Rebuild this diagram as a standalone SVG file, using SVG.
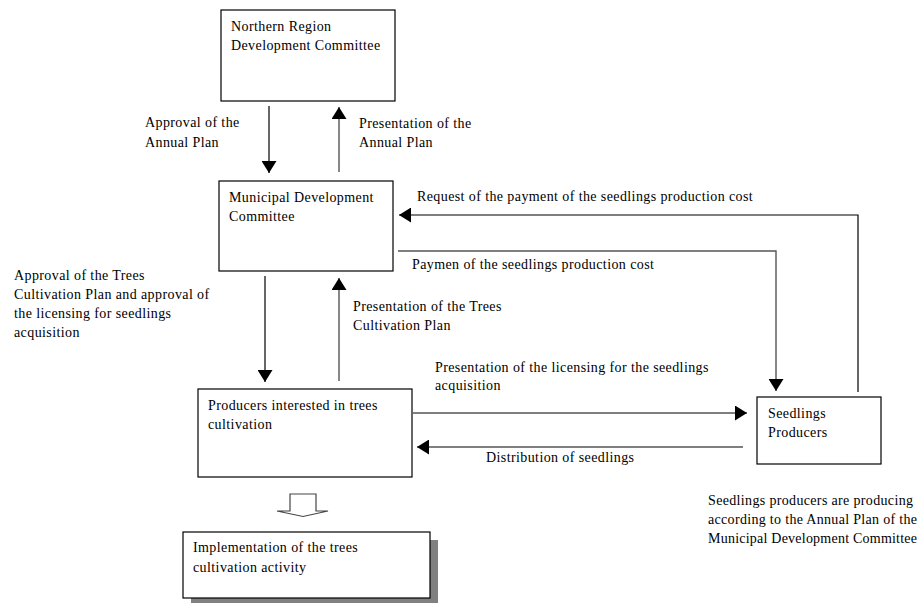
<svg xmlns="http://www.w3.org/2000/svg" width="919" height="603" viewBox="0 0 919 603">
<style>
.box{fill:#fff;stroke:#000;stroke-width:1.2}
.t{font-family:"Liberation Serif","Times New Roman",serif;font-size:14px;letter-spacing:0.4px;fill:#000}
.n{letter-spacing:0}
.ln{fill:none;stroke:#000;stroke-width:1.2}
.lg{fill:none;stroke:#555;stroke-width:1.4}
</style>
<defs>
<marker id="ah" markerUnits="userSpaceOnUse" markerWidth="12" markerHeight="15" refX="12" refY="7.5" orient="auto" viewBox="0 0 12 15">
<path d="M0,0 L12,7.5 L0,15 z" fill="#000"/>
</marker>
</defs>
<rect width="919" height="603" fill="#fff"/>
<g id="connectors">
<line class="ln" x1="269" y1="106" x2="269" y2="173" marker-end="url(#ah)"/>
<line class="lg" x1="339" y1="172" x2="339" y2="107" marker-end="url(#ah)"/>
<line class="ln" x1="265" y1="276" x2="265" y2="382" marker-end="url(#ah)"/>
<line class="lg" x1="339" y1="381" x2="339" y2="278" marker-end="url(#ah)"/>
<polyline class="ln" points="858,392 858,215 399,215" marker-end="url(#ah)"/>
<polyline class="lg" points="398,251 776,251 776,391" marker-end="url(#ah)"/>
<line class="lg" x1="413" y1="413" x2="747" y2="413" marker-end="url(#ah)"/>
<line class="ln" x1="743" y1="447" x2="417" y2="447" marker-end="url(#ah)"/>
<polygon points="290,494 316,494 316,511 328,511 303,516.5 277,511 290,511" fill="#fff" stroke="#444" stroke-width="1.2"/>
</g>
<g id="labels">
<text class="t" x="145" y="127">Approval of the</text>
<text class="t" x="145" y="147">Annual Plan</text>
<text class="t" x="359" y="128">Presentation of the</text>
<text class="t" x="359" y="147">Annual Plan</text>
<text class="t" x="417" y="201">Request of the payment of the seedlings production cost</text>
<text class="t" x="412" y="269">Paymen of the seedlings production cost</text>
<text class="t" x="14" y="280">Approval of the Trees</text>
<text class="t" x="14" y="299">Cultivation Plan and approval of</text>
<text class="t" x="14" y="318">the licensing for seedlings</text>
<text class="t" x="14" y="337">acquisition</text>
<text class="t" x="353" y="311">Presentation of the Trees</text>
<text class="t" x="353" y="330">Cultivation Plan</text>
<text class="t" x="435" y="372">Presentation of the licensing for the seedlings</text>
<text class="t" x="435" y="390">acquisition</text>
<text class="t" x="486" y="462">Distribution of seedlings</text>
<text class="t n" x="708" y="505" textLength="205" lengthAdjust="spacing">Seedlings producers are producing</text>
<text class="t n" x="708" y="524" textLength="209" lengthAdjust="spacing">according to the Annual Plan of the</text>
<text class="t n" x="708" y="543" textLength="209" lengthAdjust="spacing">Municipal Development Committee</text>
</g>
<g id="northern">
<rect class="box" x="221" y="10" width="174" height="91"/>
<text class="t" x="231" y="31">Northern Region</text>
<text class="t" x="231" y="50">Development Committee</text>
</g>
<g id="municipal">
<rect class="box" x="219" y="181" width="174" height="90"/>
<text class="t" x="229" y="202">Municipal Development</text>
<text class="t" x="229" y="221">Committee</text>
</g>
<g id="producers">
<rect class="box" x="198" y="389" width="214" height="88"/>
<text class="t" x="208" y="410">Producers interested in trees</text>
<text class="t" x="208" y="429">cultivation</text>
</g>
<g id="seedlings">
<rect class="box" x="757" y="397" width="124" height="67"/>
<text class="t" x="768" y="418">Seedlings</text>
<text class="t" x="768" y="437">Producers</text>
</g>
<g id="implementation">
<rect x="191" y="540" width="247" height="66" fill="#808080"/>
<rect class="box" x="183" y="532" width="247" height="66"/>
<text class="t" x="193" y="552">Implementation of the trees</text>
<text class="t" x="193" y="572">cultivation activity</text>
</g>
</svg>
